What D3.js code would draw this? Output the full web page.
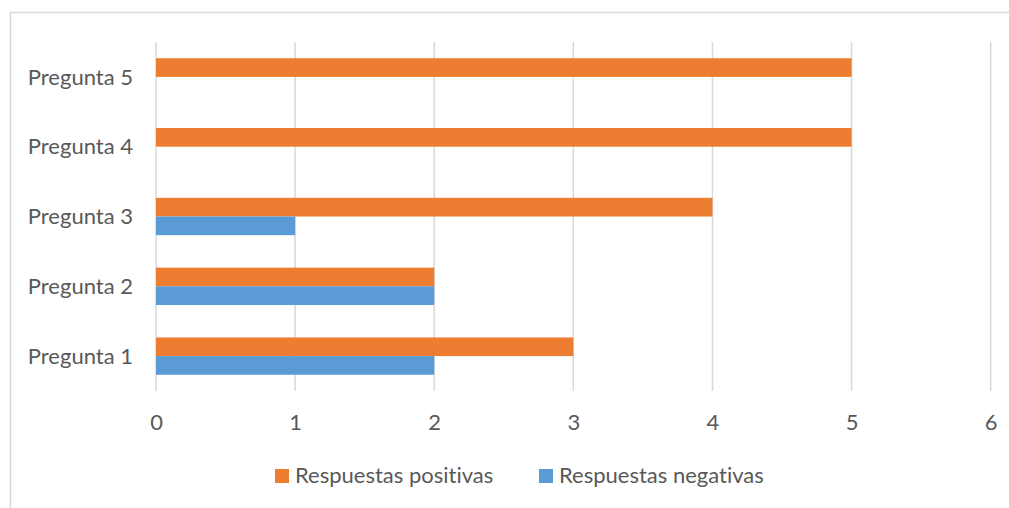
<!DOCTYPE html>
<html><head><meta charset="utf-8">
<script src="https://cdn.jsdelivr.net/npm/d3@7"></script>
<style>html,body{margin:0;padding:0;background:#fff;}svg{display:block;}text{font-variant-ligatures:none;font-feature-settings:"liga" 0;}</style>
</head><body>
<svg id="c" width="1009" height="508"></svg>
<script>
const categories = ["Pregunta 1","Pregunta 2","Pregunta 3","Pregunta 4","Pregunta 5"];
const seriesNames = ["Respuestas positivas","Respuestas negativas"];
const positivas = [3,2,4,5,5];
const negativas = [2,2,1,0,0];
const xTicks = [0,1,2,3,4,5,6];
const colors = ["#ED7D31","#5B9BD5"];

const svg = d3.select("#c");
const font = "Lato, 'Open Sans', sans-serif";
const textColor = "#595959";
const fs = 22;

// chart border
svg.append("rect").attr("x",10.5).attr("y",12.5).attr("width",1010).attr("height",510)
  .attr("fill","none").attr("stroke","#D9D9D9").attr("stroke-width",1.5);

const x = d3.scaleLinear().domain([0,6]).range([156,990.7]);
const y = d3.scaleBand().domain(categories.slice().reverse()).range([42,391])
  .paddingInner(0.465).paddingOuter(0.2325);
const ySub = d3.scaleBand().domain(seriesNames).range([0,y.bandwidth()]);

// gridlines
svg.append("g").selectAll("line").data(xTicks).join("line")
  .attr("x1",d=>x(d)).attr("x2",d=>x(d)).attr("y1",42).attr("y2",391)
  .attr("stroke","#D9D9D9").attr("stroke-width",1.5);

// bars
const data = categories.map((c,i)=>({cat:c, vals:[positivas[i],negativas[i]]}));
const g = svg.append("g");
data.forEach(d=>{
  seriesNames.forEach((s,j)=>{
    if(d.vals[j] <= 0) return;
    g.append("rect")
      .attr("x",x(0)).attr("y",y(d.cat)+ySub(s))
      .attr("width",x(d.vals[j])-x(0)).attr("height",ySub.bandwidth())
      .attr("fill",colors[j]);
  });
});

// x axis labels
const xAxis = d3.axisBottom(x).tickValues(xTicks).tickSize(0).tickPadding(0).tickFormat(d3.format("d"));
const xa = svg.append("g").attr("transform","translate(0,415)").call(xAxis);
xa.select(".domain").remove();
xa.selectAll("text").attr("dy",null).attr("y",15).attr("font-family",font).attr("font-size",fs).attr("fill",textColor);

// y axis labels
const yAxis = d3.axisLeft(y).tickSize(0).tickPadding(0);
const ya = svg.append("g").attr("transform","translate(133,0)").call(yAxis);
ya.select(".domain").remove();
ya.selectAll("text").attr("dy","0.35em").attr("font-family",font).attr("font-size",fs).attr("fill",textColor);

// legend
const legX = [275,539];
const leg = svg.append("g");
seriesNames.forEach((s,j)=>{
  leg.append("rect").attr("x",legX[j]).attr("y",469).attr("width",14).attr("height",14).attr("fill",colors[j]);
  leg.append("text").attr("x",legX[j]+20).attr("y",483).attr("font-family",font).attr("font-size",fs)
    .attr("fill",textColor).text(s);
});
</script>
</body></html>
